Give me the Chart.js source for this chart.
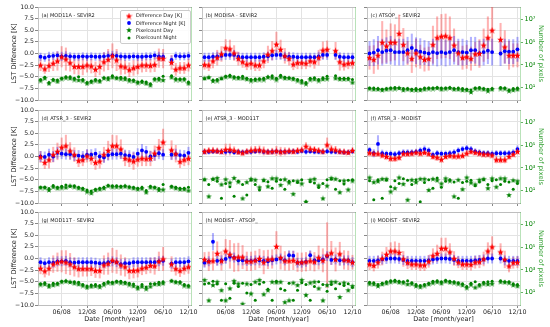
<!DOCTYPE html>
<html><head><meta charset="utf-8">
<script src="https://cdn.jsdelivr.net/npm/chart.js@4/dist/chart.umd.min.js"></script>
<style>
html,body{margin:0;padding:0;background:#fff;}
#wrap{position:relative;width:550px;height:327px;overflow:hidden;font-family:"DejaVu Sans",sans-serif;background:#fff;}
#wrap canvas.pc{position:absolute;}
.ptitle{position:absolute;font-size:5px;line-height:5px;color:#222;white-space:nowrap;}
.legend{position:absolute;background:rgba(255,255,255,0.85);border:0.6px solid #cccccc;border-radius:2px;}
.legend .it{position:absolute;font-size:5px;line-height:5px;color:#222;white-space:nowrap;}
.legend canvas{position:absolute;}
</style></head><body><div id="wrap"></div>
<script>
// ---- categories (month index, 0 = Jan 2008) and tick labels ----
const months = [0,1,2,3,4,5,6,7,8,9,10,11,12,13,14,15,16,17,18,19,20,21,22,23,24,25,26,27,28,29,30,31,32,33,34,35];
const tickMonths = [5,11,17,23,29,35];
const tickLabels = ['06/08','12/08','06/09','12/09','06/10','12/10'];
const yTicks = [-10,-7.5,-5,-2.5,0,2.5,5,7.5,10];
const pixTicks = [10,1000,100000,10000000];
const pixTickLabels = ['10\u00B9','10\u00B3','10\u2075','10\u2077'];
const titles = ['(a) MOD11A - SEVIR2','(b) MODISA - SEVIR2','(c) ATSOP_ - SEVIR2','(d) ATSR_3 - SEVIR2','(e) ATSR_3 - MOD11T','(f) ATSR_3 - MODIST','(g) MOD11T - SEVIR2','(h) MODIST - ATSOP_','(i) MODIST - SEVIR2'];

// ---- (a) ----
const aDiffDay = [-2.5,-3.3,-2.6,-2.1,-1.6,-0.7,-1.2,-2.0,-2.8,-2.8,-2.8,-2.5,-2.7,-3.4,-2.8,-1.8,-1.3,-0.5,-1.4,-2.7,-2.9,-3.5,-3.1,-2.8,-2.5,-2.5,-2.6,-2.4,-1.0,-1.1,null,-1.9,-3.4,-3.1,-3.1,-2.5];
const aDiffDayErr = [1.2,1.0,1.3,1.6,2.0,2.2,2.4,1.8,1.6,1.7,1.8,1.5,1.5,1.6,1.8,2.0,2.2,2.6,2.3,1.8,1.5,1.5,1.6,1.6,1.5,1.4,1.4,1.5,2.0,2.0,null,1.5,1.3,1.2,1.2,1.3];
const aDiffNight = [-0.7,-0.9,-0.6,-0.5,-0.4,-0.6,-0.5,-0.6,-0.7,-0.7,-0.6,-0.7,-0.6,-0.7,-0.7,-0.6,-0.5,-0.4,-0.5,-0.6,-0.7,-0.7,-0.6,-0.7,-0.7,-0.6,-0.6,-0.4,-0.6,-0.7,null,-1.4,-0.5,-0.6,-0.6,-0.5];
const aDiffNightErr = [0.8,0.8,0.9,0.8,0.8,0.9,0.9,0.8,0.8,0.8,0.8,0.8,0.8,0.8,0.8,0.8,0.9,0.9,0.9,0.8,0.8,0.8,0.8,0.8,0.8,0.8,0.8,0.8,0.9,0.8,null,0.9,0.8,0.8,0.8,0.8];
const aPixDay = [41,66,23,45,34,60,73,66,50,45,41,23,31,41,34,66,55,80,66,60,55,41,38,26,31,23,16,50,50,45,null,80,50,50,50,23];
const aPixNight = [50,80,28,50,45,66,88,88,66,88,50,28,38,50,41,73,73,106,73,80,73,50,45,31,38,31,21,60,66,97,null,106,60,55,60,31];
// ---- (b) ----
const bDiffDay = [-2.4,-2.5,-1.6,-0.9,-0.1,1.2,1.0,0.1,-1.1,-1.8,-2.3,-2.1,-2.5,-2.5,-1.6,-0.2,0.6,2.0,0.9,-0.5,-1.1,-2.3,-2.0,-2.0,-2.1,-1.6,-1.8,-0.9,0.7,0.9,null,0.6,-1.8,-2.3,-2.1,-2.0];
const bDiffDayErr = [1.0,1.2,1.5,1.6,1.6,1.8,1.9,1.6,1.4,1.2,1.2,1.3,1.2,1.2,1.5,1.8,2.0,2.6,2.0,1.6,1.4,1.2,1.3,1.3,1.2,1.3,1.4,1.6,1.8,1.8,null,1.8,1.8,1.3,1.2,1.2];
const bDiffNight = [-0.8,-0.8,-0.7,-0.6,-0.5,-0.3,-0.3,-0.3,-0.7,-0.8,-0.8,-0.8,-0.8,-0.8,-0.7,-0.6,-0.4,-0.3,-0.3,-0.6,-0.7,-0.7,-0.8,-0.8,-0.8,-0.8,-0.8,-0.6,-0.3,-0.3,null,-0.3,-0.7,-0.8,-0.8,-0.8];
const bDiffNightErr = [0.9,0.9,0.9,0.9,0.9,1.0,1.0,1.0,0.9,0.9,0.9,0.9,0.9,0.9,0.9,0.9,1.0,1.0,1.0,0.9,0.9,0.9,0.9,0.9,0.9,0.9,0.9,0.9,1.0,1.0,null,1.0,0.9,0.9,0.9,0.9];
const bPixDay = [66,80,38,41,66,88,97,73,66,66,55,41,45,50,50,80,73,50,88,66,66,55,41,28,21,50,55,41,55,60,null,66,55,55,55,28];
const bPixNight = [60,73,45,50,60,97,117,88,80,97,66,50,55,60,66,88,106,66,117,80,73,66,50,41,28,66,73,50,73,97,null,106,66,66,66,50];
// ---- (c) ----
const cDiffDay = [-0.9,-1.3,-0.4,2.4,1.6,2.4,2.4,4.3,1.9,0.1,-1.1,0.1,-0.7,-1.3,-1.1,1.9,3.4,3.7,3.8,3.4,1.8,0.1,-0.9,-0.7,-1.1,-0.1,0.0,1.8,3.4,5.0,null,3.0,1.4,-0.4,-0.4,-0.4];
const cDiffDayErr = [2.5,3.0,3.0,4.5,3.5,4.0,3.8,4.0,3.5,2.5,3.0,3.0,2.5,2.5,2.5,4.0,4.5,4.7,4.7,4.5,3.5,2.5,2.5,2.5,2.5,2.5,3.0,3.5,4.5,5.0,null,3.5,3.5,3.0,2.5,2.5];
const cDiffNight = [0.0,0.2,0.7,0.3,0.6,0.7,0.3,0.3,0.3,0.7,1.2,0.6,0.4,0.2,0.0,0.3,0.1,0.3,0.1,0.3,0.7,0.3,0.3,0.2,0.7,0.7,0.1,0.3,0.6,0.3,null,0.0,0.5,0.4,0.4,0.9];
const cDiffNightErr = [2.6,2.8,3.0,2.8,2.8,3.0,2.8,2.8,2.8,2.8,3.0,2.8,2.8,2.6,2.6,2.8,2.8,2.8,2.8,2.8,3.0,2.8,2.8,2.6,2.8,2.8,2.6,2.8,2.8,2.8,null,2.6,2.6,2.6,2.6,2.6];
const cPixDay = [8,7,7,6,7,8,8,9,6,7,6,6,6,7,8,8,9,7,8,9,7,7,6,6,4,8,8,7,5,7,null,8,8,5,6,7];
const cPixNight = [9,9,8,7,8,9,10,9,8,8,7,8,7,9,9,9,10,9,9,10,8,9,8,7,6,9,10,8,7,8,null,10,9,6,8,9];
// ---- (d) ----
const dDiffDay = [-0.1,-1.3,-0.7,0.4,1.1,2.0,2.3,1.2,0.4,-0.9,-0.7,0.1,-0.4,-1.3,-1.0,0.4,1.3,2.3,2.3,1.6,-0.4,-0.7,-1.0,-0.6,-0.4,-0.5,-0.4,0.7,1.9,3.1,null,1.4,0.6,-1.1,-0.7,-0.4];
const dDiffDayErr = [1.2,1.3,1.8,1.6,1.8,2.0,2.3,1.8,1.5,1.3,1.3,1.3,1.3,1.5,1.5,1.6,2.0,2.3,2.2,2.0,1.6,1.5,1.8,1.5,1.6,1.5,1.6,1.6,1.8,2.8,null,2.0,1.8,1.3,1.3,1.4];
const dDiffNight = [0.0,-0.1,0.4,0.0,0.8,0.6,0.5,0.5,0.2,0.2,0.0,0.4,0.4,0.6,0.0,-0.2,0.3,0.5,0.5,0.6,0.3,0.2,-0.1,0.6,1.3,1.0,0.0,0.3,0.7,0.4,null,0.4,0.5,0.3,0.2,0.8];
const dDiffNightErr = [1.1,1.1,1.2,1.1,1.2,1.1,1.1,1.1,1.1,1.1,1.1,1.1,1.1,1.1,1.1,1.1,1.1,1.1,1.1,1.1,1.1,1.1,1.1,1.1,1.3,1.2,1.1,1.1,1.2,1.1,null,1.1,1.1,1.1,1.1,1.2];
const dPixDay = [18,18,11,21,16,18,19,26,21,16,13,8,6,11,13,16,26,21,21,21,23,19,16,13,15,7,19,18,11,12,null,21,16,13,13,10];
const dPixNight = [19,19,15,28,19,23,31,23,26,19,16,11,9,13,16,19,28,26,26,23,26,21,19,16,19,10,23,19,15,34,null,23,19,16,16,19];
// ---- (e) ----
const eDiffDay = [1.1,1.3,1.3,1.2,1.1,1.5,1.5,1.3,1.0,0.8,1.1,1.3,1.4,1.4,1.2,1.0,1.1,1.2,1.0,1.1,1.2,1.1,1.3,1.4,2.2,1.6,1.5,1.3,1.1,2.5,1.6,1.4,1.1,1.0,0.9,1.3];
const eDiffDayErr = [0.6,0.6,0.7,0.6,0.6,1.2,1.2,0.8,0.6,0.6,0.6,0.8,0.8,0.9,0.9,0.6,0.7,1.0,1.0,0.8,0.6,0.6,0.6,0.6,0.8,0.7,0.6,0.6,0.6,1.5,0.8,0.8,0.6,0.6,0.5,0.6];
const eDiffNight = [1.0,1.0,1.1,1.1,1.0,1.0,1.1,0.9,1.0,0.9,1.0,1.0,1.1,1.2,1.0,1.0,1.0,1.1,1.0,1.0,1.0,1.1,1.0,1.2,1.0,1.1,1.0,1.0,1.0,1.1,1.0,1.0,1.0,0.9,0.9,1.1];
const eDiffNightErr = [0.5,0.5,0.5,0.5,0.5,0.5,0.5,0.5,0.5,0.5,0.5,0.5,0.5,0.5,0.5,0.5,0.5,0.5,0.5,0.5,0.5,0.5,0.5,0.5,0.5,0.5,0.5,0.5,0.5,0.5,0.5,0.5,0.5,0.5,0.5,0.5];
const ePixDay = [97,3,106,128,34,97,50,128,60,2,55,106,88,19,88,23,117,117,31,97,50,5,66,41,1,88,106,28,2,26,128,106,7,73,12,73];
const ePixNight = [88,34,97,66,2,41,21,3,66,34,4,80,34,11,73,60,16,66,88,13,66,73,50,88,1,60,45,18,41,88,97,13,73,38,80,88];
// ---- (f) ----
const fDiffDay = [0.8,0.6,0.6,0.3,0.0,-0.4,-0.4,-0.2,0.6,0.6,0.7,0.9,0.7,0.9,0.6,0.0,-0.2,-0.6,0.0,0.2,0.1,0.1,0.2,0.7,1.1,0.9,0.7,0.5,0.5,0.3,-0.7,-0.7,-0.7,0.0,0.5,1.1];
const fDiffDayErr = [0.7,0.6,0.6,0.6,0.7,0.7,0.7,0.6,0.6,0.6,0.6,0.6,0.6,0.6,0.6,0.6,0.7,0.7,0.6,0.6,0.6,0.6,0.6,0.6,0.6,0.6,0.6,0.6,0.6,0.6,0.7,0.7,0.7,0.6,0.6,0.6];
const fDiffNight = [1.4,0.7,2.7,0.7,0.6,0.6,0.5,0.7,0.9,0.9,0.9,1.0,1.3,1.6,1.3,0.4,0.7,0.6,0.6,0.7,0.9,1.3,1.6,1.8,1.6,1.1,0.9,0.7,0.7,0.6,0.7,0.7,0.7,0.7,0.9,1.6];
const fDiffNightErr = [0.6,0.8,1.8,0.7,0.6,0.6,0.6,0.6,0.6,0.6,0.6,0.6,0.6,0.7,0.6,0.6,0.6,0.6,0.6,0.6,0.6,0.6,0.6,0.6,0.6,0.6,0.6,0.6,0.6,0.6,0.6,0.6,0.6,0.6,0.6,0.7];
const fPixDay = [141,55,66,106,106,8,16,141,38,1.5,88,55,106,106,11,106,80,41,117,73,3,88,13,141,50,34,88,106,16,117,21,117,117,4,80,66];
const fPixNight = [73,1.5,88,2,80,21,73,41,106,80,34,88,1,50,88,16,128,19,66,88,55,2,50,66,80,26,55,88,34,73,88,34,66,55,13,41];
// ---- (g) ----
const gDiffDay = [-2.1,-2.7,-2.1,-1.2,-0.8,-0.6,-0.8,-1.2,-1.8,-2.2,-2.2,-2.2,-2.2,-2.6,-2.6,-1.4,-1.1,-0.4,-0.7,-1.4,-1.8,-2.6,-2.6,-2.5,-2.1,-1.9,-1.5,-1.6,-0.6,-0.1,null,-1.2,-2.2,-2.6,-2.1,-1.8];
const gDiffDayErr = [1.2,1.3,1.5,1.8,2.0,2.3,2.5,2.3,2.0,1.8,1.6,1.6,1.5,1.5,1.6,2.0,2.3,2.6,2.5,2.2,2.0,1.8,1.6,1.5,1.4,1.4,1.6,1.8,2.0,2.5,null,1.6,1.4,1.3,1.3,1.4];
const gDiffNight = [-0.8,-1.0,-0.8,-0.9,-0.6,-0.6,-0.5,-0.8,-0.9,-0.8,-0.8,-0.8,-0.8,-0.9,-1.0,-1.0,-0.8,-0.6,-0.8,-1.2,-1.0,-1.0,-0.8,-0.8,-0.8,-0.8,-0.8,-0.8,-0.6,-0.5,null,-1.1,-0.8,-0.8,-0.8,-0.6];
const gDiffNightErr = [1.0,1.0,1.0,1.0,1.0,1.0,1.0,1.0,1.0,1.0,1.0,1.0,1.0,1.0,1.0,1.0,1.0,1.0,1.0,1.0,1.0,1.0,1.0,1.0,1.0,1.0,1.0,1.0,1.0,1.0,null,1.0,1.0,1.0,1.0,1.0];
const gPixDay = [50,55,34,45,55,88,97,88,66,55,41,28,34,38,31,50,73,66,88,73,66,50,38,23,34,21,34,55,55,66,null,106,80,73,41,34];
const gPixNight = [60,73,45,66,66,97,106,80,88,80,50,38,45,50,41,66,88,80,97,97,80,66,55,31,50,31,60,60,80,88,null,106,88,88,50,41];
// ---- (h) ----
const hDiffDay = [-0.2,-0.6,-0.5,1.1,-0.5,1.6,0.9,0.2,0.3,0.3,-0.6,-0.6,-0.4,0.0,-0.8,-0.2,-0.1,2.6,0.2,-0.5,-0.5,-0.4,-0.8,-0.8,-0.7,-0.5,-0.7,0.2,-0.4,0.7,1.2,-0.2,1.0,-0.3,-0.4,-0.8];
const hDiffDayErr = [1.5,2.0,2.0,2.5,2.0,2.5,3.0,3.0,3.0,2.5,2.0,2.0,2.0,2.0,2.5,2.0,2.0,3.2,2.5,2.0,2.0,2.0,2.0,2.0,2.0,2.0,2.0,2.5,2.5,7.0,2.5,2.5,2.5,2.0,2.0,1.5];
const hDiffNight = [-0.9,-0.6,3.6,-0.5,-0.4,-0.1,0.4,0.2,-0.4,-0.4,-0.5,-0.5,-0.4,-0.4,-0.5,-0.6,-0.4,-0.2,0.0,-0.4,0.7,0.6,-0.9,-0.9,-0.7,0.7,-0.4,-0.4,-0.2,0.5,-0.3,-0.2,-0.4,-0.4,-0.4,-0.8];
const hDiffNightErr = [1.0,1.0,1.8,1.0,1.0,1.0,1.0,1.0,1.0,1.0,1.0,1.0,1.0,1.0,1.0,1.0,1.0,1.0,1.0,1.0,1.0,1.0,1.0,1.0,1.0,1.0,1.0,1.0,1.0,1.0,1.0,1.0,1.0,1.0,1.0,1.0];
const hPixDay = [128,2,45,88,16,2,23,106,60,1,60,8,88,128,7,16,88,80,88,1.4,2,73,45,128,6,73,88,23,2,45,88,88,4,73,16,38];
const hPixNight = [55,66,97,55,2,60,3,66,34,66,9,50,2,55,80,19,2,97,21,16,66,2,16,73,50,2,34,88,50,13,50,21,60,41,60,28];
// ---- (i) ----
const iDiffDay = [-1.2,-1.5,-0.8,0.0,0.9,1.6,1.6,1.3,-0.1,-0.9,-1.2,-1.2,-1.4,-1.4,-0.6,0.6,1.1,2.2,2.2,1.4,0.0,-0.8,-1.2,-1.2,-1.3,-0.8,-0.7,-0.1,1.6,2.5,null,1.4,-0.2,-1.6,-0.9,-0.8];
const iDiffDayErr = [1.2,1.2,1.3,1.4,1.5,1.8,2.0,2.0,1.6,1.3,1.2,1.2,1.2,1.2,1.3,1.5,1.8,2.2,2.2,1.8,1.5,1.2,1.2,1.2,1.2,1.3,1.3,1.5,1.8,2.2,null,1.8,1.8,1.3,1.2,1.2];
const iDiffNight = [-0.5,-0.5,-0.4,-0.2,-0.1,0.0,0.0,-0.1,-0.3,-0.5,-0.5,-0.5,-0.5,-0.5,-0.4,-0.2,-0.1,0.0,0.0,-0.1,-0.3,-0.5,-0.5,-0.5,-0.5,-0.4,-0.3,-0.2,0.0,0.0,null,0.0,-0.4,-0.5,-0.5,-0.5];
const iDiffNightErr = [1.0,1.0,1.0,1.0,1.0,1.0,1.0,1.0,1.0,1.0,1.0,1.0,1.0,1.0,1.0,1.0,1.0,1.0,1.0,1.0,1.0,1.0,1.0,1.0,1.0,1.0,1.0,1.0,1.0,1.0,null,1.0,1.0,1.0,1.0,1.0];
const iPixDay = [60,55,38,55,66,88,97,80,73,55,60,38,31,41,55,73,88,66,97,80,73,60,45,26,50,28,41,60,55,60,null,88,80,73,45,38];
const iPixNight = [80,73,50,66,88,106,117,97,88,106,73,50,41,50,66,97,106,88,117,97,88,73,60,34,66,88,50,80,88,97,null,106,88,88,60,50];

const panels = [
  [aDiffDay,aDiffDayErr,aDiffNight,aDiffNightErr,aPixDay,aPixNight],
  [bDiffDay,bDiffDayErr,bDiffNight,bDiffNightErr,bPixDay,bPixNight],
  [cDiffDay,cDiffDayErr,cDiffNight,cDiffNightErr,cPixDay,cPixNight],
  [dDiffDay,dDiffDayErr,dDiffNight,dDiffNightErr,dPixDay,dPixNight],
  [eDiffDay,eDiffDayErr,eDiffNight,eDiffNightErr,ePixDay,ePixNight],
  [fDiffDay,fDiffDayErr,fDiffNight,fDiffNightErr,fPixDay,fPixNight],
  [gDiffDay,gDiffDayErr,gDiffNight,gDiffNightErr,gPixDay,gPixNight],
  [hDiffDay,hDiffDayErr,hDiffNight,hDiffNightErr,hPixDay,hPixNight],
  [iDiffDay,iDiffDayErr,iDiffNight,iDiffNightErr,iPixDay,iPixNight]
];

// ---- layout / style ----
const FONT = '"DejaVu Sans", sans-serif';
const GEO = {L:[38,202,367], W:153, T:[7,110,212], H:93, padL:38, padR:30, padT:7, padB:22};
const X_MIN = -0.6, X_MAX = 35.6;
const PIX_MIN = Math.pow(10,-0.11), PIX_MAX = Math.pow(10,8.11);
const RED='#ff0000', BLUE='#0000ff', GREEN='#008000';
const TXT='#222222', GRID='#e3e3e3', FRAME='#b5b5b5';

function starImg(color, size){
  const c=document.createElement('canvas'); c.width=size; c.height=size;
  const g=c.getContext('2d'); const R=size/2, r=R*0.42, cx=size/2, cy=size/2+size*0.05;
  g.beginPath();
  for(let k=0;k<10;k++){const a=-Math.PI/2+k*Math.PI/5; const rr=(k%2)?r:R; g.lineTo(cx+rr*Math.cos(a), cy+rr*Math.sin(a));}
  g.closePath(); g.fillStyle=color; g.fill(); return c;
}
const redStar = starImg(RED,7), greenStar = starImg(GREEN,6);

const wrap = document.getElementById('wrap');
function pts(arr){ const o=[]; months.forEach((m,i)=>{ if(arr[i]!=null) o.push({x:m,y:arr[i]}); }); return o; }
function bars(v,e){ const o=[]; months.forEach((m,i)=>{ if(v[i]!=null) o.push({x:m,y:[v[i]-e[i], v[i]+e[i]]}); }); return o; }
const fmt = v => (v<0?'\u2212':'') + Math.abs(v).toFixed(1);

function buildPanel(idx){
  const r = Math.floor(idx/3), c = idx%3;
  const [dd,dde,dn,dne,pd,pn] = panels[idx];
  const isLeft=c===0, isRight=c===2, isBottom=r===2;
  const w = GEO.padL+GEO.W+GEO.padR, h = GEO.padT+GEO.H+GEO.padB;
  const cv=document.createElement('canvas'); cv.className='pc';
  cv.width=w; cv.height=h; cv.style.width=w+'px'; cv.style.height=h+'px';
  cv.style.left=(GEO.L[c]-GEO.padL)+'px'; cv.style.top=(GEO.T[r]-GEO.padT)+'px';
  wrap.appendChild(cv);
  new Chart(cv, {
    type:'scatter',
    data:{datasets:[
      {label:'Difference Day [K]', data:pts(dd), yAxisID:'y', pointStyle:redStar, pointRadius:3, order:1},
      {label:'Difference Night [K]', data:pts(dn), yAxisID:'y', pointStyle:'circle', pointRadius:1.9, backgroundColor:BLUE, borderWidth:0, order:2},
      {label:'Pixelcount Day', data:pts(pd), yAxisID:'y2', pointStyle:greenStar, pointRadius:3, order:3},
      {label:'Pixelcount Night', data:pts(pn), yAxisID:'y2', pointStyle:'circle', pointRadius:1.5, backgroundColor:GREEN, borderWidth:0, order:4},
      {type:'bar', label:'errDay', data:bars(dd,dde), yAxisID:'y', backgroundColor:'rgba(255,0,0,0.3)', barThickness:1.4, grouped:false, order:6},
      {type:'bar', label:'errNight', data:bars(dn,dne), yAxisID:'y', backgroundColor:'rgba(0,0,255,0.3)', barThickness:1.4, grouped:false, order:5}
    ]},
    options:{
      responsive:false, animation:false, devicePixelRatio:1, events:[],
      layout:{padding:{top:GEO.padT,left:0,right:0,bottom:0}},
      plugins:{legend:{display:false}, tooltip:{enabled:false}},
      scales:{
        x:{type:'linear', position:'bottom', min:X_MIN, max:X_MAX, offset:false,
           grid:{color:GRID, offset:false, drawTicks:true, tickLength:3, tickColor:'#888'},
           border:{color:FRAME, width:0.8},
           afterBuildTicks:s=>{ s.ticks = tickMonths.map(v=>({value:v})); },
           afterFit:s=>{ s.height = GEO.padB; },
           ticks:{display:isBottom, autoSkip:false, maxRotation:0, padding:1, color:TXT, font:{family:FONT,size:6.3},
                  callback:(v)=>{ const k=tickMonths.indexOf(v); return k>=0?tickLabels[k]:''; }},
           title:{display:isBottom, text:'Date [month/year]', color:TXT, font:{family:FONT,size:6.5}, padding:{top:0,bottom:3.5}}
        },
        xt:{type:'linear', position:'top', min:X_MIN, max:X_MAX, grid:{display:false, drawTicks:false}, ticks:{display:false},
            border:{color:FRAME, width:0.8}, afterFit:s=>{ s.height = 0; }},
        y:{type:'linear', position:'left', min:-10, max:10,
           grid:{color:GRID, drawTicks:true, tickLength:3, tickColor:'#888'},
           border:{color:FRAME, width:0.8},
           afterBuildTicks:s=>{ s.ticks = yTicks.map(v=>({value:v})); },
           afterFit:s=>{ s.width = GEO.padL; },
           ticks:{display:isLeft, padding:1, color:TXT, font:{family:FONT,size:6.2}, callback:v=>fmt(v)},
           title:{display:isLeft, text:'LST Difference [K]', color:TXT, font:{family:FONT,size:6.7}, padding:{top:10.5,bottom:0}}
        },
        y2:{type:'logarithmic', position:'right', min:PIX_MIN, max:PIX_MAX,
           grid:{drawOnChartArea:false, drawTicks:isRight, tickLength:3, tickColor:'rgba(0,128,0,0.6)'},
           border:{color:'rgba(0,150,0,0.35)', width:0.8},
           afterBuildTicks:s=>{ s.ticks = pixTicks.map(v=>({value:v})); },
           afterFit:s=>{ s.width = GEO.padR; },
           ticks:{display:isRight, padding:1.5, color:GREEN, font:{family:FONT,size:6.5},
                  callback:(v)=>{ const k=pixTicks.indexOf(v); return k>=0?pixTickLabels[k]:''; }},
           title:{display:isRight, text:'Number of pixels', color:'#2e9e2e', font:{family:FONT,size:6.7}, padding:{top:5.5,bottom:0}}
        }
      }
    }
  });
  const t=document.createElement('div'); t.className='ptitle'; t.textContent=titles[idx];
  t.style.left=(GEO.L[c]+3.5)+'px'; t.style.top=(GEO.T[r]+5.5)+'px';
  wrap.appendChild(t);
}
for(let i=0;i<9;i++) buildPanel(i);

// ---- legend in panel (a) ----
const legend=document.createElement('div'); legend.className='legend';
legend.style.left='120px'; legend.style.top='10px'; legend.style.width='69px'; legend.style.height='32px';
wrap.appendChild(legend);
const legItems=[['Difference Day [K]','redstar'],['Difference Night [K]','bluedot'],['Pixelcount Day','greenstar'],['Pixelcount Night','greendot']];
legItems.forEach((it,k)=>{
  const cy = 5 + k*7.2;
  const mk=document.createElement('canvas'); mk.width=8; mk.height=8;
  mk.style.left=(7.7-4)+'px'; mk.style.top=(cy-4)+'px'; mk.style.width='8px'; mk.style.height='8px';
  const g=mk.getContext('2d');
  if(it[1]==='redstar') g.drawImage(redStar,0.5,0.5);
  else if(it[1]==='greenstar') g.drawImage(greenStar,1,1);
  else { g.beginPath(); g.arc(4,4,it[1]==='bluedot'?1.9:1.5,0,Math.PI*2); g.fillStyle=it[1]==='bluedot'?BLUE:GREEN; g.fill(); }
  legend.appendChild(mk);
  const tx=document.createElement('div'); tx.className='it'; tx.textContent=it[0];
  tx.style.left='15px'; tx.style.top=(cy-2.7)+'px';
  legend.appendChild(tx);
});
</script></body></html>
